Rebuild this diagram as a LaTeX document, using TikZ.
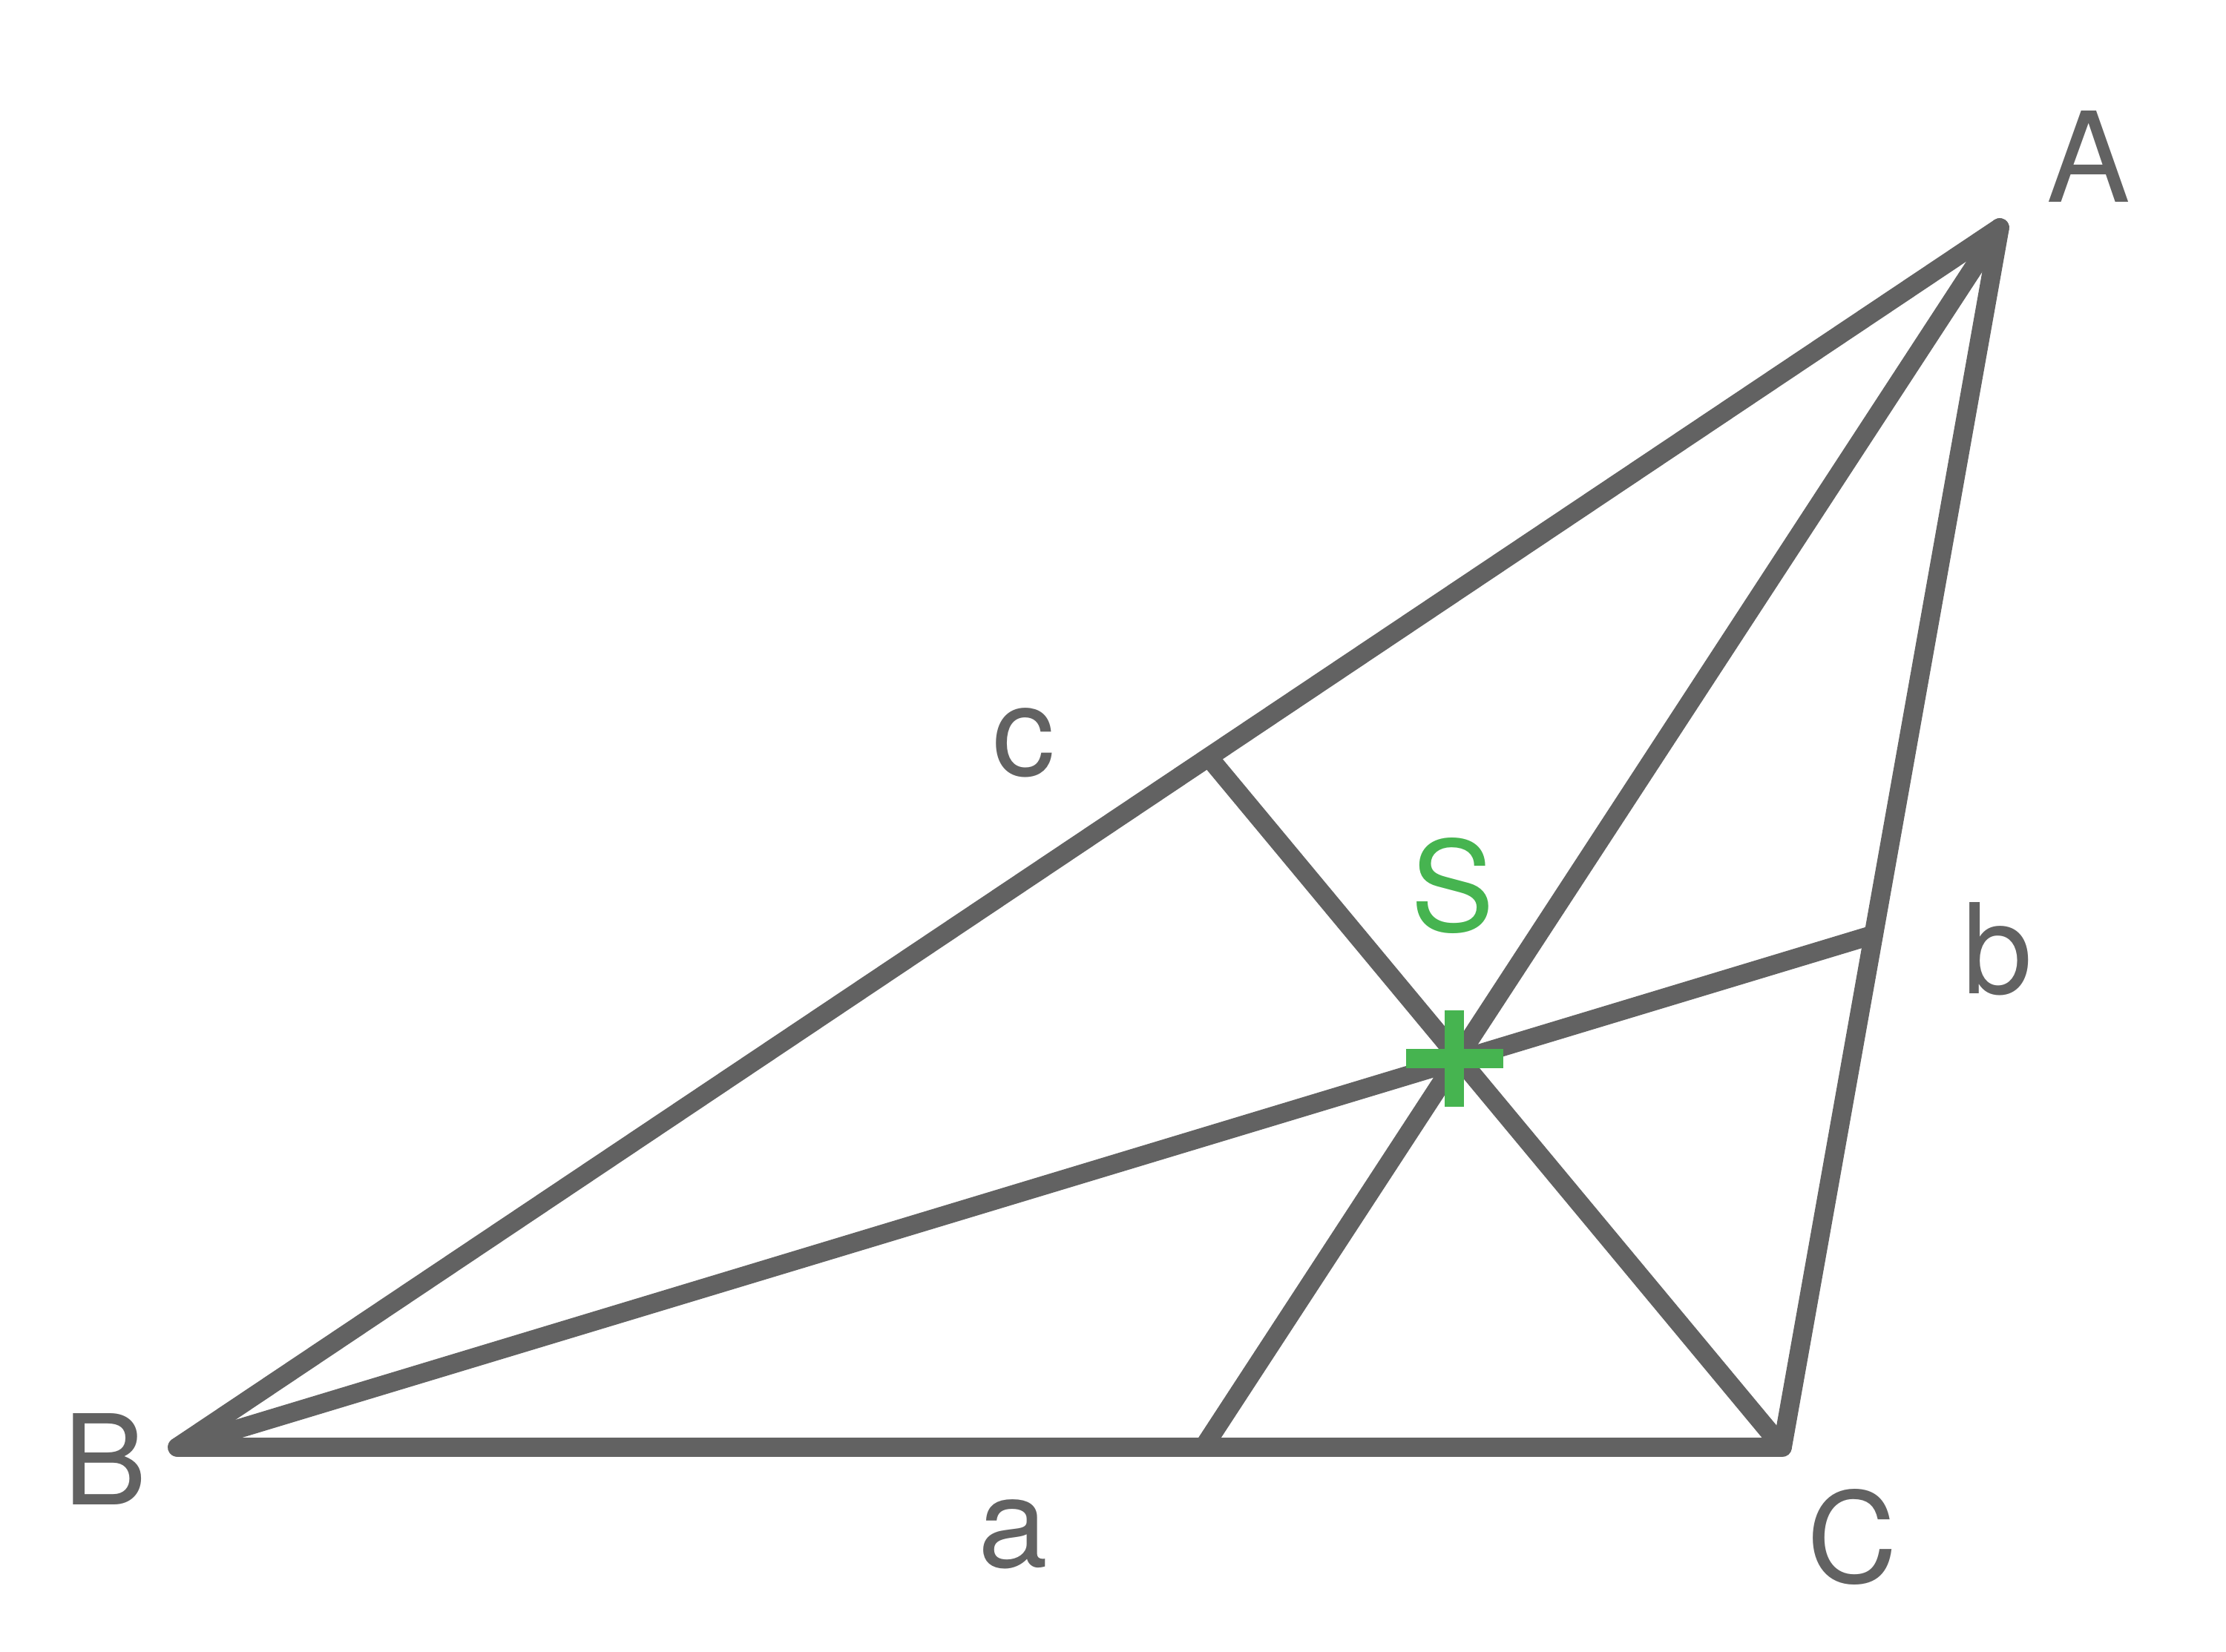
\documentclass[tikz,border=0pt]{standalone}
\usepackage{fontspec}
\setmainfont{TeX Gyre Heros}
\usepackage{xcolor}
\usepackage{tikz}
\usetikzlibrary{calc}

\definecolor{linegray}{RGB}{98,98,98}
\definecolor{centroidgreen}{RGB}{70,180,80}

\begin{document}
\begin{tikzpicture}[
        side/.style={draw=linegray, line width=7.3pt, line cap=round, line join=round},
        crossbar/.style={draw=centroidgreen, line width=7.4pt},
        lbl/.style={inner sep=0pt, text=linegray, font=\fontsize{48}{58}\selectfont}
    ]
        \useasboundingbox (0,0) rectangle (30,22.26);

        %% Vertices and feet of the medians
        \coordinate (A) at (26.95,19.19);
        \coordinate (B) at (2.39,2.75);
        \coordinate (C) at (24.02,2.75);
        \coordinate (S) at (19.60,7.99);
        \coordinate (Ma) at (16.22,2.75);
        \coordinate (Mb) at (25.25,9.66);
        \coordinate (Mc) at (16.30,12.04);

        %% Triangle
        \draw [side] (B) -- (C) -- (A) -- cycle;

        %% Medians
        \draw [side] (A) -- (Ma);
        \draw [side] (B) -- (Mb);
        \draw [side] (C) -- (Mc);

        %% Centroid
        \draw [crossbar] ($(S) + (-0.655,0)$) -- ($(S) + (0.655,0)$);
        \draw [crossbar] ($(S) + (0,-0.65)$) -- ($(S) + (0,0.65)$);

        %% Labels
        \node (labA) [lbl] at (28.15,20.15) {A};
        \node (labB) [lbl] at (1.42,2.59) {B};
        \node (labC) [lbl] at (24.96,1.54) {C};
        \node (laba) [lbl] at (13.65,1.58) {a};
        \node (labb) [lbl] at (26.92,9.47) {b};
        \node (labc) [lbl] at (13.80,12.25) {c};
        \node (labS) [lbl, text=centroidgreen] at (19.58,10.32) {S};

    \end{tikzpicture}
\end{document}
